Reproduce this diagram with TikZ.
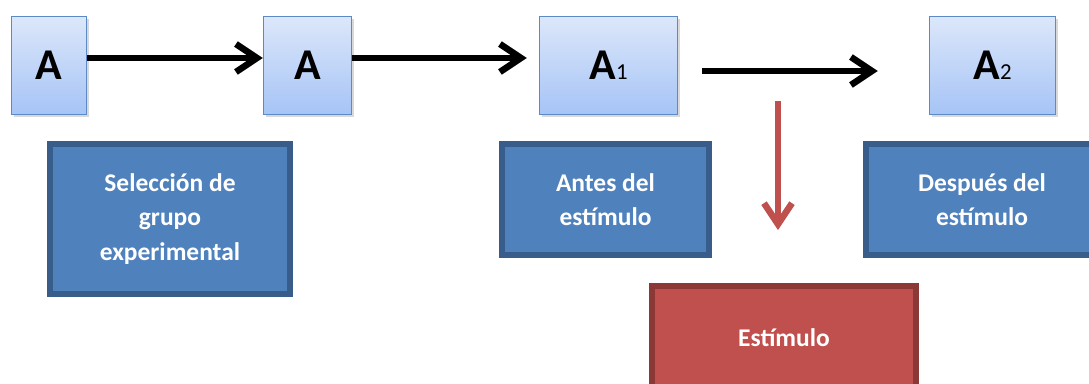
\documentclass[tikz,border=0pt]{standalone}
\usepackage{fontspec}
\setmainfont{Carlito}
\usetikzlibrary{arrows.meta,shadows}
\definecolor{lighttop}{RGB}{220,231,250}
\definecolor{lightbot}{RGB}{166,196,246}
\definecolor{lightline}{RGB}{92,138,198}
\definecolor{phaseblue}{RGB}{79,129,189}
\definecolor{phaseline}{RGB}{56,93,138}
\definecolor{stimred}{RGB}{192,80,77}
\definecolor{stimline}{RGB}{140,56,54}

\begin{document}
\begin{tikzpicture}[
  x=0.02cm, y=-0.02cm,
  every node/.style={inner sep=0pt},
  letterN/.style={rectangle, draw=lightline, line width=0.8pt, top color=lighttop, bottom color=lightbot, minimum height=1.96cm, font=\fontsize{25}{28}\selectfont\bfseries, drop shadow={opacity=0.3, shadow xshift=1.2pt, shadow yshift=-1.5pt}},
  phaseN/.style={rectangle, draw=phaseline, fill=phaseblue, line width=0.12cm, text=white, align=center, font=\fontsize{14.5}{19.5}\selectfont\bfseries},
  stimN/.style={phaseN, draw=stimline, fill=stimred},
  flow/.style={line width=0.13cm, -{Straight Barb[length=0.42cm, width=0.56cm]}},
]
\useasboundingbox (0,0) rectangle (1089,383);
\clip (0,0) rectangle (1089,383);
% top row
\node[letterN, minimum width=1.50cm] (a0) at (49, 65.5) {A};
\node[letterN, minimum width=1.76cm] (a1) at (307.5, 65.5) {A};
\node[letterN, minimum width=2.76cm] (aone) at (608.5, 65.5) {A{\fontsize{13}{14}\selectfont\mdseries 1}};
\node[letterN, minimum width=2.52cm] (atwo) at (992.5, 65.5) {A{\fontsize{13}{14}\selectfont\mdseries 2}};
% phases
\node[phaseN, minimum width=4.80cm, minimum height=3.00cm] (sel) at (170, 219) {Selección de\\grupo\\experimental};
\node[phaseN, minimum width=4.14cm, minimum height=2.22cm] (antes) at (605.5, 199.5) {Antes del\\estímulo};
\node[phaseN, minimum width=4.64cm, minimum height=2.22cm] (despues) at (982, 199.5) {Después del\\estímulo};
\node[stimN, minimum width=5.28cm, minimum height=2.08cm] (estim) at (784, 338) {Estímulo};
% arrows
\draw[flow] ([yshift=0.15cm]a0.east) -- ([yshift=0.15cm]a1.west);
\draw[flow, shorten >=0.24cm] ([yshift=0.15cm]a1.east) -- ([yshift=0.15cm]aone.west);
\draw[flow, shorten <=0.48cm, shorten >=1.02cm] ([yshift=-0.11cm]aone.east) -- ([yshift=-0.11cm]atwo.west);
\coordinate (kick) at (778, 101);
\draw[flow, stimred, shorten >=1.06cm] (kick) -- (kick |- estim.north);
\end{tikzpicture}
\end{document}
